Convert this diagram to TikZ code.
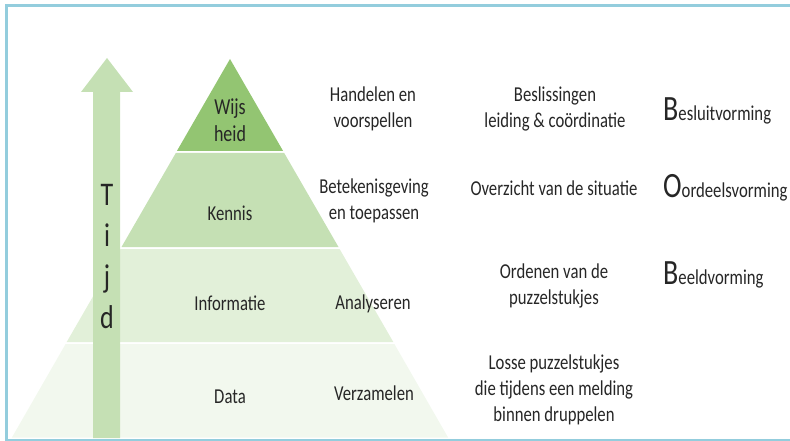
\documentclass[tikz,border=0pt]{standalone}
\usepackage{fontspec}
\setmainfont{Carlito}
\usepackage{graphicx}
\definecolor{frameblue}{HTML}{93CDDD}
\definecolor{gwijs}{HTML}{93C572}
\definecolor{gkennis}{HTML}{C5E0B4}
\definecolor{ginfo}{HTML}{E2F0D9}
\definecolor{gdata}{HTML}{F2F8EE}
\definecolor{garrow}{HTML}{C5E0B4}
\definecolor{txt}{HTML}{262626}
\newcommand{\vst}[1]{\scalebox{1}[1.27]{#1}}
\newcommand{\mlt}[1]{\scalebox{1}[1.27]{\begin{tabular}{@{}c@{}}#1\end{tabular}}}
\tikzset{
  lbl/.style={text=txt, inner sep=0pt, font=\fontsize{16.7}{20.5}\selectfont},
  biglbl/.style={text=txt, inner sep=0pt, anchor=base west, font=\fontsize{16.7}{20.5}\selectfont},
  band/.style={draw=none},
}
\newcommand{\bigletter}[1]{{\fontsize{28}{28}\selectfont #1}}
\begin{document}
\begin{tikzpicture}[x=1pt,y=-1pt]
\useasboundingbox (0,0) rectangle (790,441);
% frame
\fill[frameblue] (5,4) rectangle (790,7.3);
\fill[frameblue] (5,4) rectangle (8.3,441);
\fill[frameblue] (5,439.2) rectangle (790,441);
% pyramid bands (apex 230,59; half-width = 0.577*(y-59))
\fill[band, gwijs] (230,59) -- (283.1,151) -- (176.9,151) -- cycle;
\fill[band, gkennis] (175.8,153) -- (284.2,153) -- (338.5,247) -- (121.5,247) -- cycle;
\fill[band, ginfo] (120.4,249) -- (339.6,249) -- (393.3,342) -- (66.7,342) -- cycle;
\fill[band, gdata] (65.6,344) -- (394.4,344) -- (448.1,437.5) -- (11.9,437.5) -- cycle;
% time arrow
\fill[garrow] (107,58) -- (133,92) -- (120,92) -- (120,438) -- (93,438) -- (93,92) -- (81,92) -- cycle;
\node[text=txt, inner sep=0pt, font=\fontsize{26}{32.3}\selectfont] (tijd) at (107,259) {\mlt{T\\i\\j\\d}};
% pyramid labels
\node[lbl, font=\fontsize{18}{21}\selectfont] (wijs) at (230,123) {\mlt{Wijs\\heid}};
\node[lbl] (kennis) at (230,213) {\vst{Kennis}};
\node[lbl] (informatie) at (230,303) {\vst{Informatie}};
\node[lbl] (data) at (230,397) {\vst{Data}};
% actions
\node[lbl] (handelen) at (373,109) {\mlt{Handelen en\\voorspellen}};
\node[lbl] (beteken) at (374,201) {\mlt{Betekenisgeving\\en toepassen}};
\node[lbl] (analyseren) at (373,304) {\vst{Analyseren}};
\node[lbl] (verzamelen) at (374,393) {\vst{Verzamelen}};
% descriptions
\node[lbl] (beslis) at (555,109) {\mlt{Beslissingen\\leiding \& coördinatie}};
\node[lbl] (overzicht) at (554,188) {\vst{Overzicht van de situatie}};
\node[lbl] (ordenen) at (554,286) {\mlt{Ordenen van de\\puzzelstukjes}};
\node[lbl] (losse) at (554,390) {\mlt{Losse puzzelstukjes\\die tijdens een melding\\binnen druppelen}};
% BOB
\node[biglbl] (besluit) at (663,121) {\vst{\bigletter{B}esluitvorming}};
\node[biglbl] (oordeel) at (663,197) {\vst{\bigletter{O}ordeelsvorming}};
\node[biglbl] (beeld) at (663,284) {\vst{\bigletter{B}eeldvorming}};
\end{tikzpicture}
\end{document}
